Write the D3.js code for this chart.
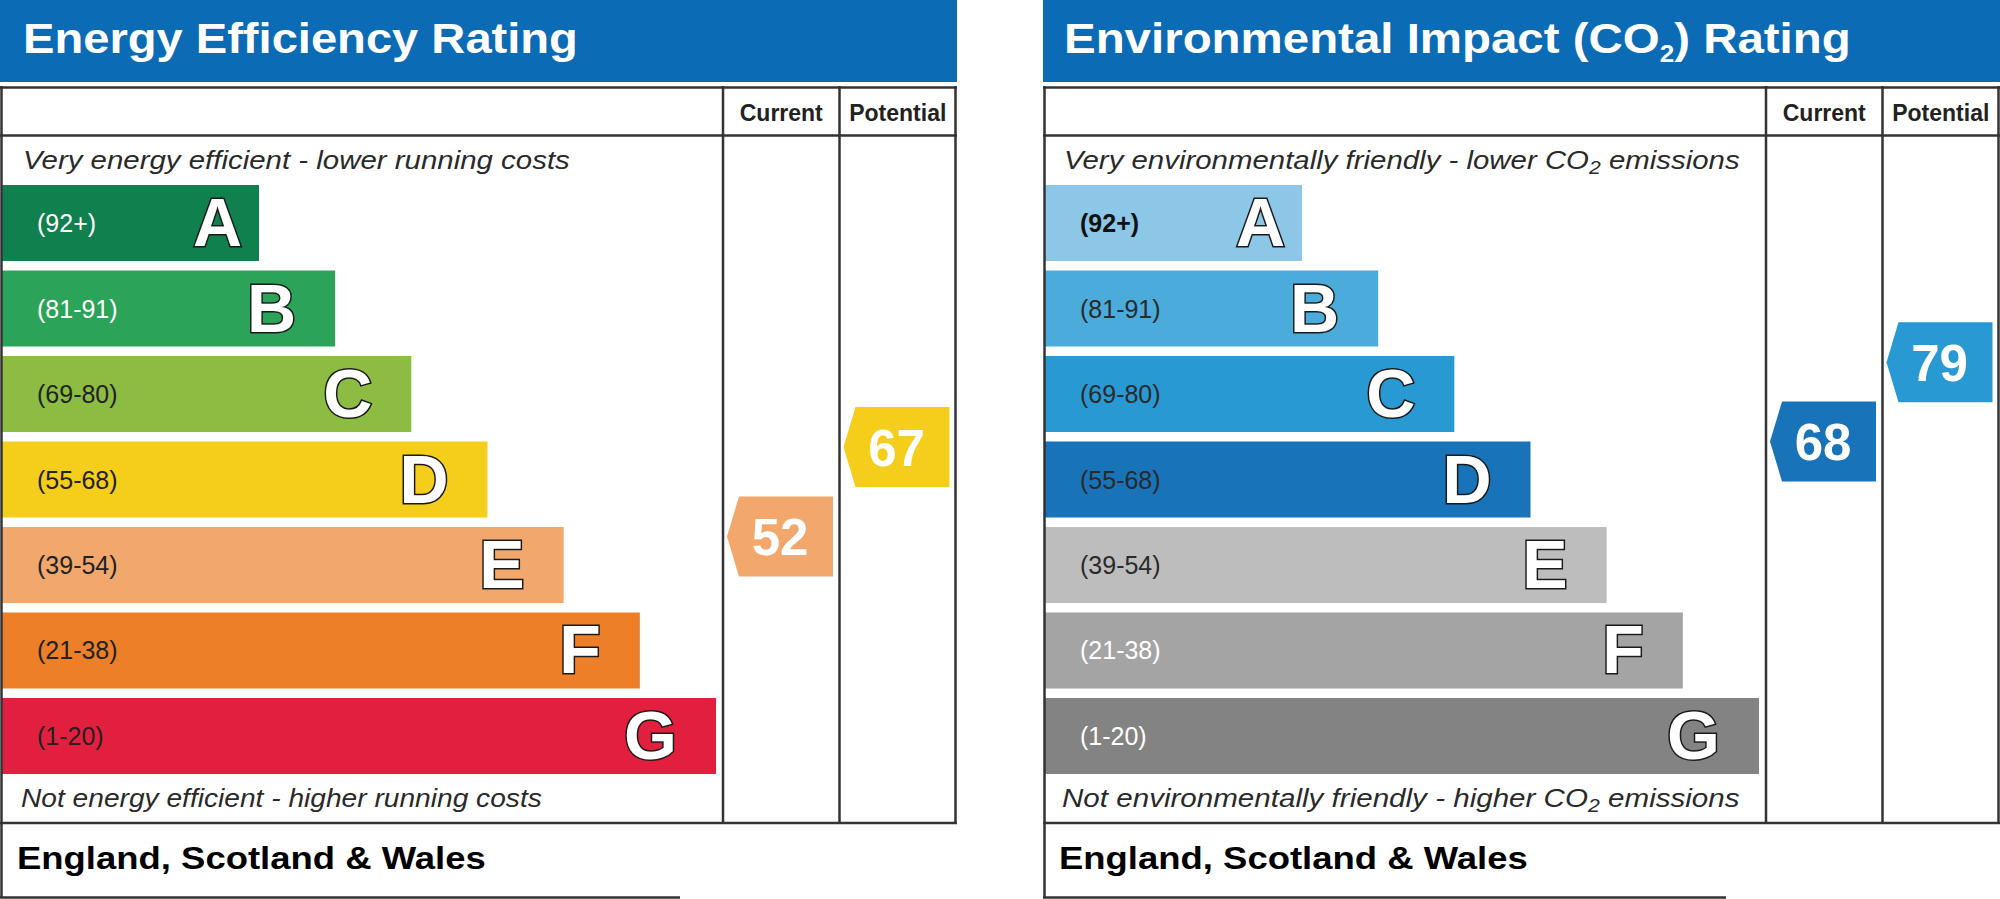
<!DOCTYPE html>
<html lang="en">
<head>
<meta charset="UTF-8">
<title>EPC ratings</title>
<script src="https://cdn.jsdelivr.net/npm/d3@7"></script>
<style>
  body { margin: 0; background: #fff; }
</style>
</head>
<body>
<div class="container"></div>
<script>
// rating bands (same for both charts)
const bands = ["A", "B", "C", "D", "E", "F", "G"];
const bandLabels = ["(92+)", "(81-91)", "(69-80)", "(55-68)", "(39-54)", "(21-38)", "(1-20)"];
const bandMin = [92, 81, 69, 55, 39, 21, 1];
const bandMax = [100, 91, 80, 68, 54, 38, 20];
const columns = ["Current", "Potential"];

// ratings : [current, potential]
const energyRatings = [52, 67];
const co2Ratings = [68, 79];

// texts
const energyTitle = [{ t: "Energy Efficiency Rating" }];
const co2Title = [{ t: "Environmental Impact (CO" }, { t: "2", sub: true }, { t: ") Rating" }];
const energyTop = [{ t: "Very energy efficient - lower running costs" }];
const energyBottom = [{ t: "Not energy efficient - higher running costs" }];
const co2Top = [{ t: "Very environmentally friendly - lower CO" }, { t: "2", sub: true }, { t: " emissions" }];
const co2Bottom = [{ t: "Not environmentally friendly - higher CO" }, { t: "2", sub: true }, { t: " emissions" }];
const footer = "England, Scotland & Wales";

// colours
const blue = "#0b6bb4";
const lineCol = "#333";
const energyColours = ["#10804f", "#2ba45a", "#8cbd42", "#f5cd1b", "#f2a86d", "#ed7f29", "#e21f3e"];
const energyLabelColours = ["#fff", "#fff", "#222", "#222", "#222", "#222", "#222"];
const co2Colours = ["#8cc7e7", "#4bacdc", "#2999d3", "#1873b8", "#bdbdbd", "#a4a4a4", "#838383"];
const co2LabelColours = ["#111", "#2a2a2a", "#2a2a2a", "#2a2a2a", "#2a2a2a", "#fff", "#fff"];

const font = "Arial, 'Liberation Sans', Helvetica, sans-serif";
const width = 2000, height = 899;
const panelW = 957;

const svg = d3.select(".container").append("svg")
  .attr("width", width)
  .attr("height", height)
  .attr("viewBox", [0, 0, width, height])
  .attr("font-family", font)
  .style("display", "block");

// scales
const y = d3.scaleBand().domain(bands).range([185, 774]).paddingInner(0.111);
const barEnd = d3.scaleLinear().domain([0, bands.length - 1]).range([259, 716]);
const col = d3.scaleBand().domain(columns).range([723, 956]);

function bandIndex(v) {
  return bands.findIndex((b, k) => v >= bandMin[k] && v <= bandMax[k]);
}
function ratingY(v) {
  const i = bandIndex(v);
  return y(bands[i]) + (bandMax[i] - v) / (bandMax[i] - bandMin[i] + 1) * y.bandwidth();
}

// draw a text made of parts (subscripts), squeezed/stretched to a given width
function fitText(parent, parts, x, yy, size, w, opts) {
  const t = parent.append("text")
    .attr("font-family", font)
    .attr("font-size", size)
    .attr("font-weight", opts.weight || "normal")
    .attr("font-style", opts.style || "normal")
    .attr("fill", opts.fill);
  parts.forEach((p, i) => {
    const prevSub = i > 0 && parts[i - 1].sub;
    const s = t.append("tspan").text(p.t);
    if (p.sub) s.attr("font-size", size * opts.subScale).attr("dy", opts.subDy);
    else if (prevSub) s.attr("dy", -opts.subDy);
  });
  const bw = t.node().getBBox().width;
  t.attr("transform", `translate(${x},${yy}) scale(${w / bw},1)`);
  return t;
}

function drawPanel(p) {
  const g = svg.append("g").attr("transform", `translate(${p.x},0)`);

  // header
  g.append("rect").attr("x", 0).attr("y", 0).attr("width", panelW).attr("height", 82).attr("fill", blue);
  fitText(g, p.title, p.titleX, 53, 43, p.titleW, { fill: "#fff", weight: "bold", subScale: 0.55, subDy: 9 });

  // white body
  g.append("rect").attr("x", 0).attr("y", 87).attr("width", panelW).attr("height", 736).attr("fill", "#fff");

  // bars
  const bar = g.append("g").selectAll("g")
    .data(bands)
    .join("g");
  bar.append("rect")
    .attr("x", 2)
    .attr("y", d => y(d))
    .attr("width", (d, i) => barEnd(i) - 2)
    .attr("height", y.bandwidth())
    .attr("fill", (d, i) => p.colours[i]);
  bar.append("text")
    .attr("x", 37)
    .attr("y", d => y(d) + y.bandwidth() / 2 + 9)
    .attr("font-size", 25)
    .attr("font-weight", (d, i) => (p.boldFirst && i === 0) ? "bold" : "normal")
    .attr("fill", (d, i) => p.labelColours[i])
    .text((d, i) => bandLabels[i]);
  bar.append("text")
    .attr("x", (d, i) => barEnd(i) - (i === 0 ? 17 : 39))
    .attr("y", d => y(d) + y.bandwidth() / 2 + 23)
    .attr("text-anchor", "end")
    .attr("font-size", 68)
    .attr("font-weight", "bold")
    .attr("fill", "#fff")
    .attr("stroke", "#1a1a1a")
    .attr("stroke-width", 3)
    .attr("paint-order", "stroke")
    .text(d => d);

  // italic captions
  fitText(g, p.top, p.topX, 169, 25, p.topW, { fill: "#2a2a2a", style: "italic", subScale: 0.72, subDy: 5 });
  fitText(g, p.bottom, p.bottomX, 807, 25, p.bottomW, { fill: "#2a2a2a", style: "italic", subScale: 0.72, subDy: 5 });

  // column headers
  g.append("g").selectAll("text")
    .data(columns)
    .join("text")
    .attr("x", d => col(d) + col.bandwidth() / 2)
    .attr("y", 121)
    .attr("text-anchor", "middle")
    .attr("font-size", 23)
    .attr("font-weight", "bold")
    .attr("fill", "#222")
    .text(d => d);

  // rating arrows
  const aw = 106, ah = 80, notch = 12;
  const arrow = g.append("g").selectAll("g")
    .data(p.ratings)
    .join("g")
    .attr("transform", (d, i) => `translate(${col(columns[i]) + 4},${ratingY(d) - ah / 2})`);
  arrow.append("polygon")
    .attr("points", [[0, ah / 2], [notch, 0], [aw, 0], [aw, ah], [notch, ah]].map(q => q.join(",")).join(" "))
    .attr("fill", d => p.colours[bandIndex(d)]);
  arrow.append("text")
    .attr("x", aw / 2)
    .attr("y", ah / 2 + 19)
    .attr("text-anchor", "middle")
    .attr("font-size", 51)
    .attr("font-weight", "bold")
    .attr("fill", "#fff")
    .text(d => d);

  // frame lines
  const lines = [
    [0, 87.5, panelW, 87.5],
    [0, 135.5, panelW, 135.5],
    [0, 823, panelW, 823],
    [1.5, 86, 1.5, 898],
    [panelW - 1.5, 86, panelW - 1.5, 824],
    [0, 897.5, p.footerW, 897.5],
    ...columns.map(c => [col(c), 86, col(c), 824])
  ];
  g.append("g").selectAll("line")
    .data(lines)
    .join("line")
    .attr("x1", d => d[0]).attr("y1", d => d[1])
    .attr("x2", d => d[2]).attr("y2", d => d[3])
    .attr("stroke", lineCol)
    .attr("stroke-width", 2.5);

  // footer
  fitText(g, [{ t: footer }], p.footX, 869, 32, 469, { fill: "#000", weight: "bold" });
}

drawPanel({
  x: 0, title: energyTitle, titleX: 23, titleW: 555,
  top: energyTop, topX: 23, topW: 547,
  bottom: energyBottom, bottomX: 21, bottomW: 521,
  colours: energyColours, labelColours: energyLabelColours, boldFirst: false,
  ratings: energyRatings, footerW: 680, footX: 17
});
drawPanel({
  x: 1043, title: co2Title, titleX: 21, titleW: 787,
  top: co2Top, topX: 21, topW: 676,
  bottom: co2Bottom, bottomX: 19, bottomW: 678,
  colours: co2Colours, labelColours: co2LabelColours, boldFirst: true,
  ratings: co2Ratings, footerW: 683, footX: 16
});
</script>
</body>
</html>
